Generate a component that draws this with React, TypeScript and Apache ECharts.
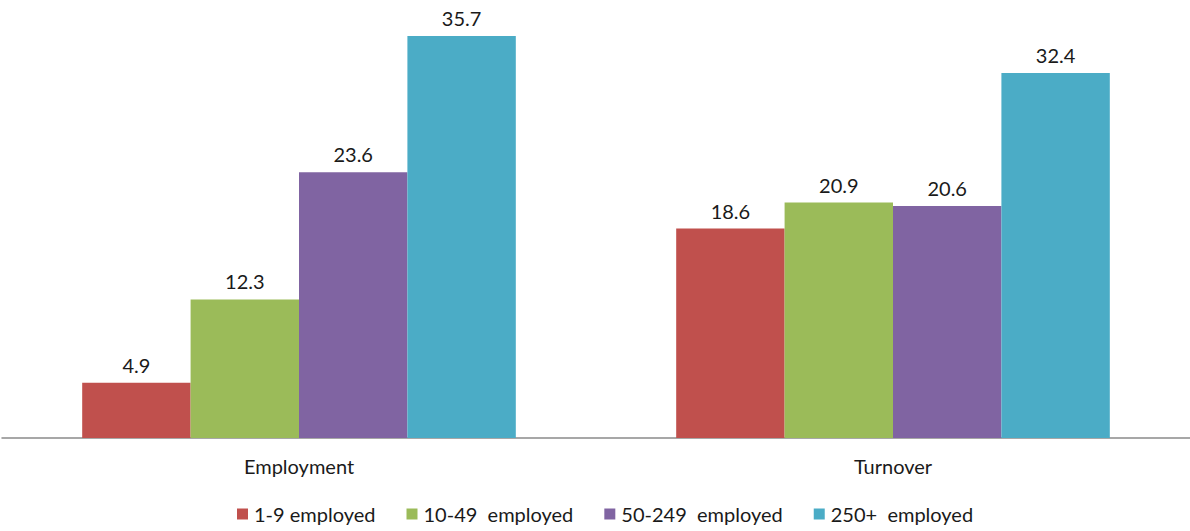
import React, { useEffect, useRef } from "react";
import * as echarts from "echarts";

const categories = ["Employment", "Turnover"];
const seriesNames = ["1-9 employed", "10-49  employed", "50-249  employed", "250+  employed"];
const seriesColors = ["#C0504D", "#9BBB59", "#8064A2", "#4BACC6"];
const small = [4.9, 18.6];
const lowerMid = [12.3, 20.9];
const upperMid = [23.6, 20.6];
const large = [35.7, 32.4];
const seriesValues = [small, lowerMid, upperMid, large];

const FONT = "Lato, 'Open Sans', sans-serif";

export default function App() {
  const ref = useRef<HTMLDivElement>(null);

  useEffect(() => {
    if (!ref.current) return;
    const chart = echarts.init(ref.current, undefined, { renderer: "svg" });
    chart.setOption({
      animation: false,
      textStyle: { fontFamily: FONT },
      grid: { left: 2, right: 0, top: 10, bottom: 93, containLabel: false },
      legend: {
        bottom: 2,
        left: 232,
        itemWidth: 11,
        itemHeight: 11,
        itemGap: 31,
        icon: "rect",
        textStyle: { fontSize: 20, color: "#1a1a1a", fontFamily: FONT, padding: [0, 0, 0, 1] },
        data: seriesNames,
      },
      xAxis: {
        type: "category",
        data: categories,
        axisLine: { show: true, lineStyle: { color: "#8a8a8a", width: 1.5 } },
        axisTick: { show: false },
        axisLabel: { margin: 18, fontSize: 20, color: "#1a1a1a", fontFamily: FONT },
      },
      yAxis: {
        type: "value",
        min: 0,
        max: 38,
        show: false,
        splitLine: { show: false },
      },
      series: seriesNames.map((name, i) => ({
        name,
        type: "bar",
        data: seriesValues[i],
        barGap: "0%",
        barCategoryGap: "27%",
        itemStyle: { color: seriesColors[i] },
        label: {
          show: true,
          position: "top",
          distance: 8,
          fontSize: 20,
          color: "#1a1a1a",
          fontFamily: FONT,
          formatter: (p: any) => Number(p.value).toFixed(1),
        },
      })),
    });
    return () => chart.dispose();
  }, []);

  return (
    <div
      ref={ref}
      style={{ position: "fixed", left: 0, top: 0, width: 1190, height: 531, background: "#fff" }}
    />
  );
}
